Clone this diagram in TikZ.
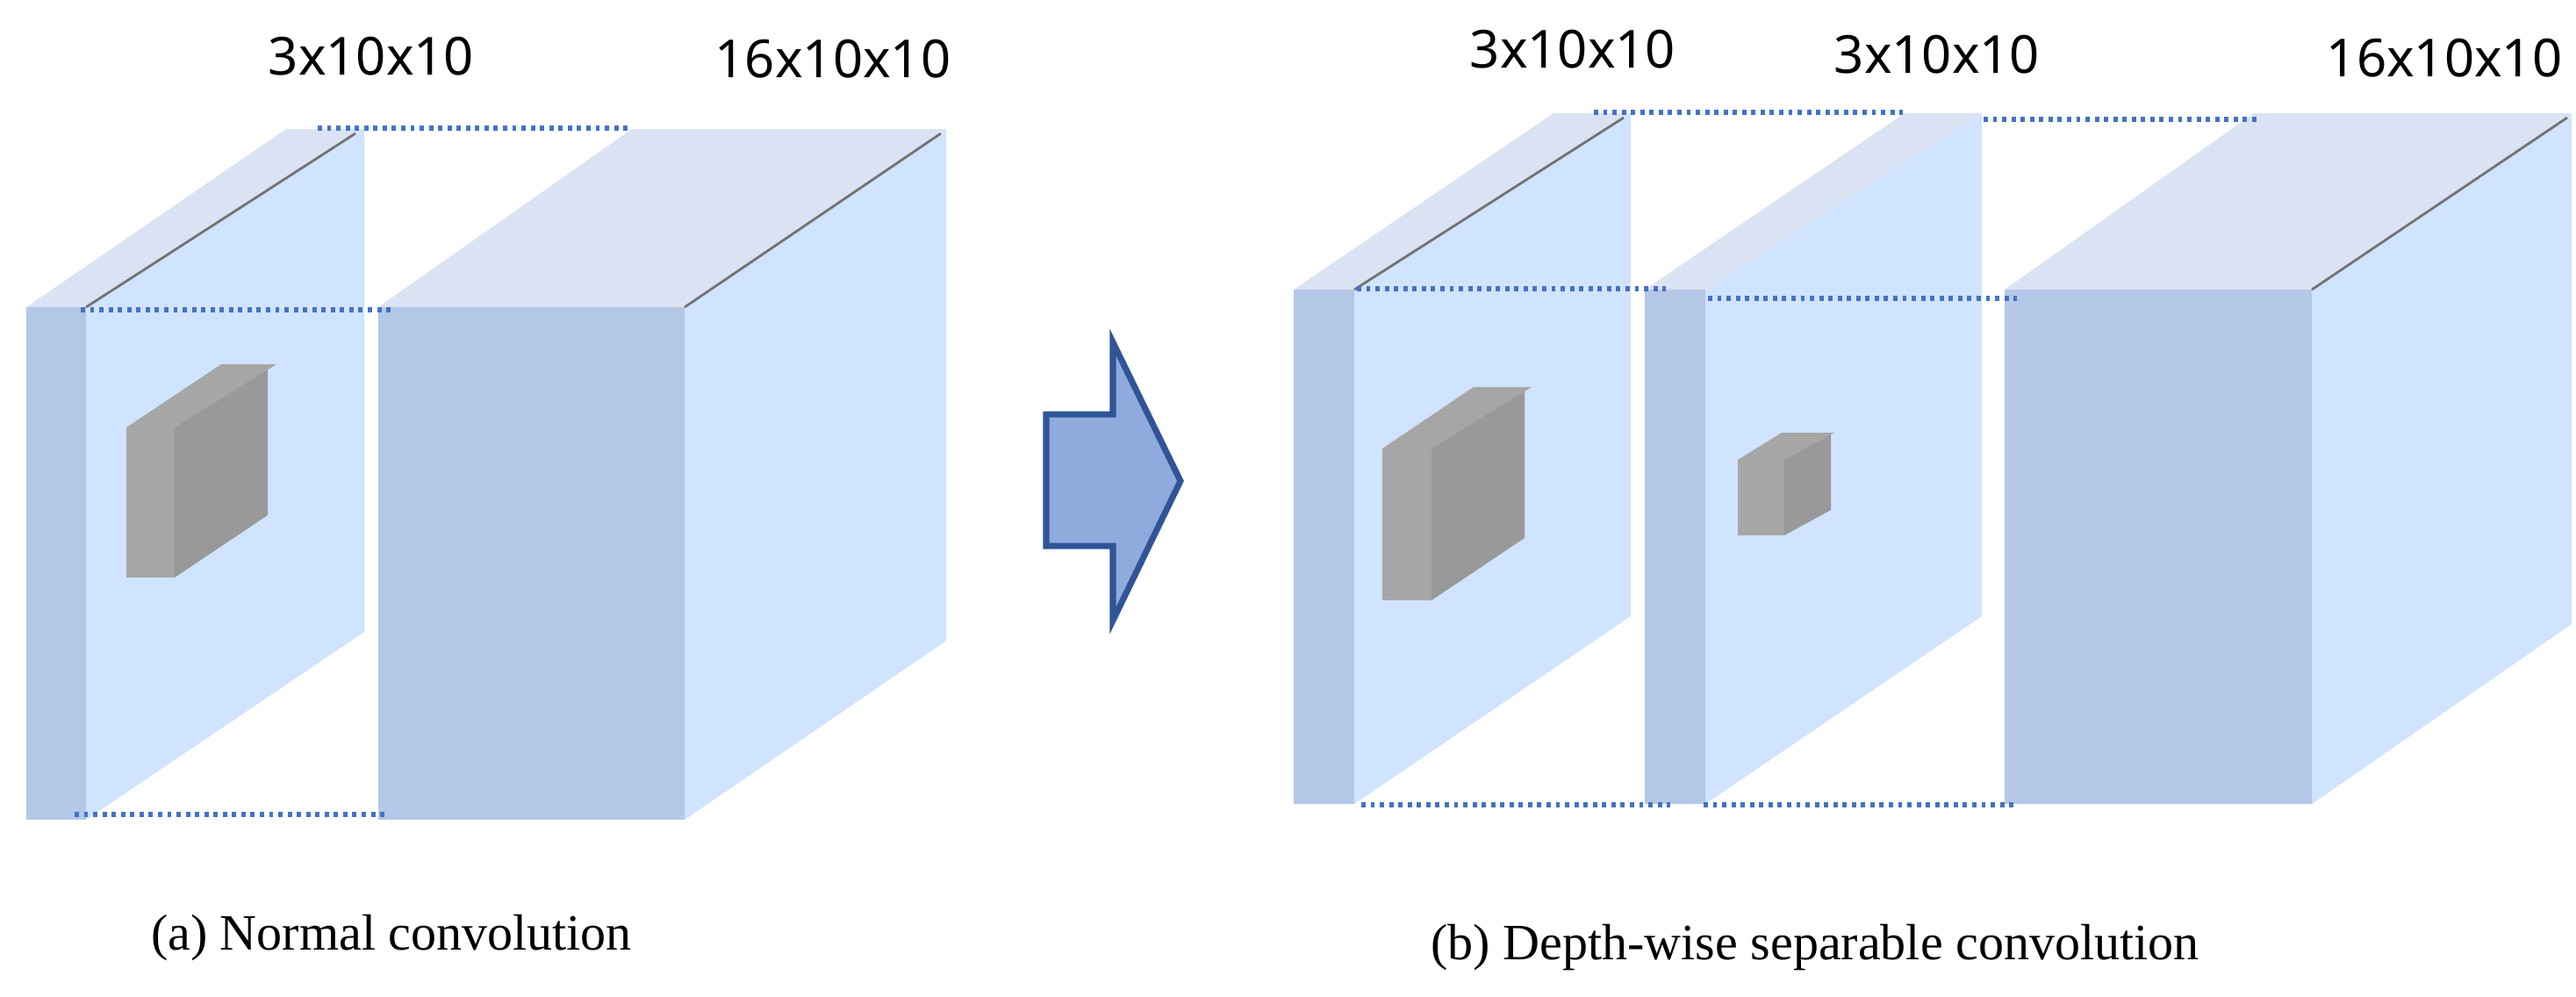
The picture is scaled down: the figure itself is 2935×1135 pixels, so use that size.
\documentclass[tikz,border=0pt]{standalone}
\usepackage{fontspec}
\setmainfont{Liberation Serif}
\newfontfamily\lblfont{Noto Sans}
\definecolor{frontc}{HTML}{B4C7E7}
\definecolor{sidec}{HTML}{D0E3FF}
\definecolor{topc}{HTML}{DAE3F3}
\definecolor{dotc}{HTML}{4472C4}
\definecolor{arrf}{HTML}{8FAADC}
\definecolor{arrd}{HTML}{2F5597}
\begin{document}
\begin{tikzpicture}[x=0.01cm,y=-0.01cm,
  front/.style={fill=frontc},
  side/.style={fill=sidec},
  top/.style={fill=topc},
  kf/.style={fill=black!35},
  ks/.style={fill=black!40},
  dots/.style={draw=dotc,line width=1.6pt,dash pattern=on 1.4pt off 1.6pt},
  edge/.style={draw=black!55,line width=0.8pt},
  lbl/.style={font=\lblfont\fontsize{17}{20}\selectfont},
  captext/.style={font=\fontsize{16.5}{20}\selectfont}]
\useasboundingbox (0,0) rectangle (2935,1135);
% ---------- (a) ----------
\path[side] (98,350) -- (415,147) -- (415,720) -- (98,934) -- cycle;
\path[top] (30,350) -- (326,147) -- (415,147) -- (98,350) -- cycle;
\path[front] (30,350) rectangle (98,934);
\draw[edge] (98,350) -- (405,152);
\path[ks] (199,487) -- (305,415) -- (305,587) -- (199,658) -- cycle;
\path[kf] (144,487) -- (252,415) -- (315,415) -- (199,487) -- cycle;
\path[kf] (144,487) rectangle (199,658);
\path[side] (780,350) -- (1078,147) -- (1078,730) -- (780,934) -- cycle;
\path[top] (431,350) -- (720,147) -- (1078,147) -- (780,350) -- cycle;
\path[front] (431,350) rectangle (780,934);
\draw[edge] (780,350) -- (1072,152);
\coordinate (a1) at (362,146); \coordinate (a2) at (716,146);
\coordinate (a3) at (92,353); \coordinate (a4) at (447,353);
\coordinate (a5) at (85,928); \coordinate (a6) at (440,928);
\draw[dots] (a1) -- (a2);
\draw[dots] (a3) -- (a4);
\draw[dots] (a5) -- (a6);
\node[lbl] (la1) at (423,64) {3x10x10};
\node[lbl] (la2) at (949,67) {16x10x10};
\node[captext] (ca) at (446,1069) {(a) Normal convolution};
% ---------- arrow ----------
\draw[fill=arrf,draw=arrd,line width=2pt,line join=miter]
  (1192,472) -- (1268,472) -- (1268,390) -- (1345,548) -- (1268,707) -- (1268,622) -- (1192,622) -- cycle;
% ---------- (b) ----------
\path[side] (1543,330) -- (1858,129) -- (1858,702) -- (1543,916) -- cycle;
\path[top] (1474,330) -- (1770,129) -- (1858,129) -- (1543,330) -- cycle;
\path[front] (1474,330) rectangle (1543,916);
\draw[edge] (1543,330) -- (1850,134);
\path[ks] (1631,511) -- (1737,441) -- (1737,613) -- (1631,684) -- cycle;
\path[kf] (1575,511) -- (1679,441) -- (1745,441) -- (1631,511) -- cycle;
\path[kf] (1575,511) rectangle (1631,684);
\path[side] (1943,330) -- (2258,129) -- (2258,702) -- (1943,916) -- cycle;
\path[top] (1874,330) -- (2170,129) -- (2258,129) -- (1943,330) -- cycle;
\path[front] (1874,330) rectangle (1943,916);
\path[ks] (2033,524) -- (2086,493) -- (2086,581) -- (2033,610) -- cycle;
\path[kf] (1980,524) -- (2030,493) -- (2090,493) -- (2033,524) -- cycle;
\path[kf] (1980,524) rectangle (2033,610);
\path[side] (2634,330) -- (2930,129) -- (2930,711) -- (2634,916) -- cycle;
\path[top] (2284,330) -- (2568,129) -- (2930,129) -- (2634,330) -- cycle;
\path[front] (2284,330) rectangle (2634,916);
\draw[edge] (2634,330) -- (2925,134);
\coordinate (b1) at (1816,128); \coordinate (b2) at (2168,128);
\coordinate (b3) at (2260,136); \coordinate (b4) at (2576,136);
\coordinate (b5) at (1546,329); \coordinate (b6) at (1898,329);
\coordinate (b7) at (1946,340); \coordinate (b8) at (2298,340);
\coordinate (b9) at (1551,917); \coordinate (b10) at (1903,917);
\coordinate (b11) at (1941,917); \coordinate (b12) at (2298,917);
\draw[dots] (b1) -- (b2);
\draw[dots] (b3) -- (b4);
\draw[dots] (b5) -- (b6);
\draw[dots] (b7) -- (b8);
\draw[dots] (b9) -- (b10);
\draw[dots] (b11) -- (b12);
\node[lbl] (lb1) at (1792,56) {3x10x10};
\node[lbl] (lb2) at (2207,62) {3x10x10};
\node[lbl] (lb3) at (2785,66) {16x10x10};
\node[captext] (cb) at (2068,1080) {(b) Depth-wise separable convolution};
\end{tikzpicture}
\end{document}
